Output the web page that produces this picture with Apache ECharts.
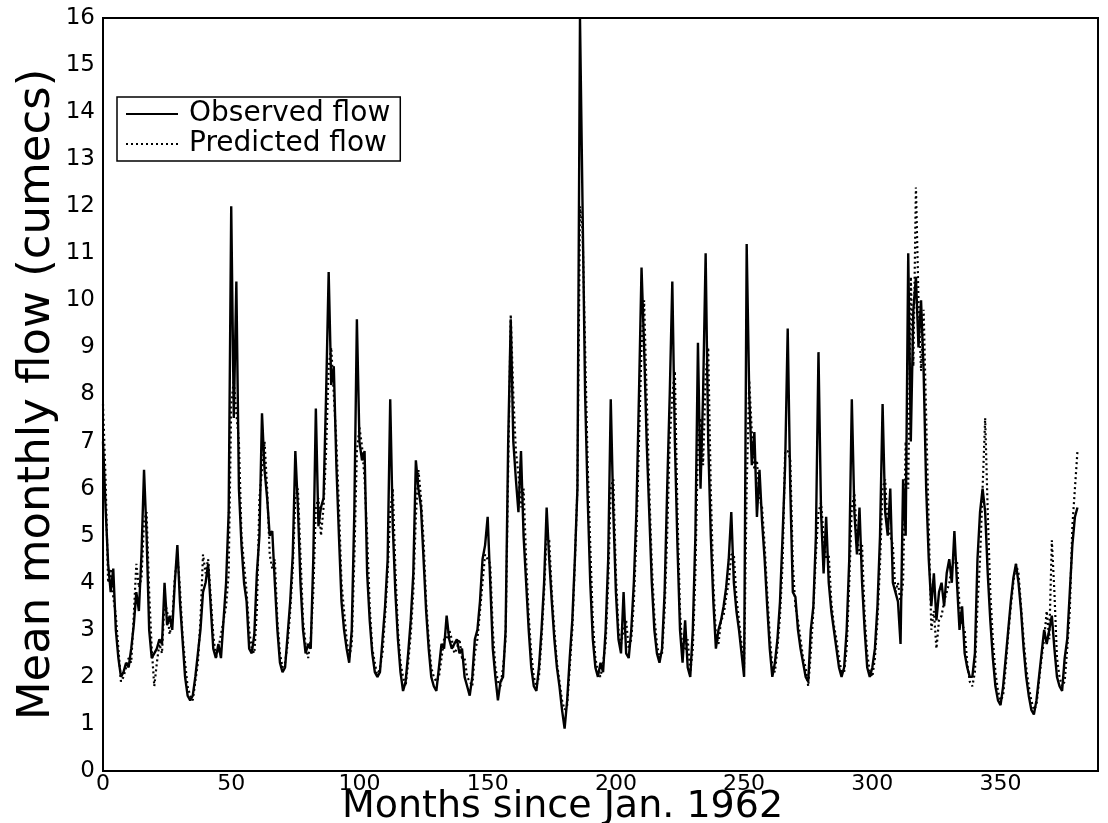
<!DOCTYPE html>
<html>
<head>
<meta charset="utf-8">
<script src="https://cdn.jsdelivr.net/npm/echarts@6/dist/echarts.min.js"></script>
<style>
  html, body { margin: 0; padding: 0; background: #fff; }
  #chart { width: 1108px; height: 823px; }
</style>
</head>
<body>
<div id="chart"></div>
<script>
// Mean monthly flow (cumecs), one value per month starting Jan. 1962 (month 0)
const observedFlow = [
  7.0, 5.6, 4.4, 3.8, 4.3, 3.0, 2.4, 2.0, 2.1, 2.3,
  2.2, 2.6, 3.1, 3.8, 3.4, 4.6, 6.4, 5.0, 3.0, 2.4,
  2.5, 2.6, 2.8, 2.7, 4.0, 3.1, 3.3, 3.0, 4.0, 4.8,
  3.6, 2.8, 2.0, 1.6, 1.5, 1.6, 2.0, 2.5, 3.0, 3.8,
  4.0, 4.4, 3.5, 2.6, 2.4, 2.7, 2.4, 3.2, 4.0, 5.5,
  12.0, 7.5, 10.4, 6.0, 4.8, 4.0, 3.6, 2.6, 2.5, 2.9,
  4.2, 5.0, 7.6, 6.4, 5.8, 5.0, 5.1, 4.0, 3.0, 2.3,
  2.1, 2.2, 2.9, 3.6, 4.6, 6.8, 5.6, 4.0, 3.0, 2.5,
  2.7, 2.6, 4.5, 7.7, 5.2, 5.6, 5.8, 8.0, 10.6, 8.2,
  8.6, 6.5, 5.0, 3.6, 3.0, 2.6, 2.3, 3.0, 5.5, 9.6,
  7.0, 6.6, 6.8, 4.2, 3.2, 2.5, 2.1, 2.0, 2.1, 2.8,
  3.5, 4.5, 7.9, 5.2, 3.8, 2.8, 2.1, 1.7, 1.9, 2.5,
  3.2, 4.2, 6.6, 6.0, 5.6, 4.5, 3.4, 2.6, 2.0, 1.8,
  1.7, 2.2, 2.7, 2.6, 3.3, 2.8, 2.6, 2.7, 2.8, 2.5,
  2.6, 2.0, 1.8, 1.6, 2.0, 2.8, 3.0, 3.6, 4.5, 4.8,
  5.4, 4.0, 2.6, 2.0, 1.5, 1.9, 2.0, 3.0, 7.0, 9.6,
  7.0, 6.2, 5.5, 6.8, 5.0, 4.0, 3.0, 2.2, 1.8, 1.7,
  2.2, 3.0, 4.0, 5.6, 4.5, 3.6, 2.8, 2.2, 1.8, 1.3,
  0.9, 1.5, 2.4, 3.2, 4.5, 6.0, 16.0, 12.0, 8.0, 5.8,
  4.0, 2.8, 2.2, 2.0, 2.3, 2.1, 3.0, 4.5, 7.9, 5.5,
  3.8, 2.8, 2.5, 3.8, 2.5, 2.4, 3.0, 4.0, 5.5, 8.0,
  10.7, 9.0, 7.0, 5.5, 4.0, 3.0, 2.5, 2.3, 2.6, 3.8,
  6.0, 8.0, 10.4, 7.0, 4.8, 3.0, 2.3, 3.2, 2.2, 2.0,
  3.0, 5.0, 9.1, 6.0, 8.0, 11.0, 7.0, 5.0, 3.6, 2.6,
  3.0, 3.2, 3.5, 3.9, 4.5, 5.5, 4.0, 3.4, 3.0, 2.5,
  2.0, 11.2, 8.0, 6.5, 7.2, 5.4, 6.4, 5.3, 4.5, 3.5,
  2.6, 2.0, 2.3, 2.8, 3.6, 5.0, 6.5, 9.4, 6.0, 3.8,
  3.7, 3.0, 2.6, 2.3, 2.0, 1.9, 3.0, 3.5, 5.0, 8.9,
  5.5, 4.2, 5.4, 4.0, 3.4, 3.0, 2.6, 2.2, 2.0, 2.2,
  3.0, 4.5, 7.9, 5.5, 4.6, 5.6, 4.0, 3.0, 2.2, 2.0,
  2.2, 2.6, 3.5, 5.0, 7.8, 5.5, 5.0, 6.0, 4.0, 3.8,
  3.6, 2.7, 6.2, 5.0, 11.0, 7.0, 9.8, 10.5, 9.0, 10.0,
  8.5, 6.0, 4.5, 3.5, 4.2, 3.2, 3.8, 4.0, 3.5, 4.2,
  4.5, 4.0, 5.1, 4.0, 3.0, 3.5, 2.5, 2.2, 2.0, 2.0,
  2.5, 4.5, 5.5, 6.0, 5.5, 4.2, 3.2, 2.4, 1.8, 1.5,
  1.4, 1.8, 2.4, 3.0, 3.6, 4.1, 4.4, 4.0, 3.4, 2.6,
  2.0, 1.6, 1.3, 1.2, 1.5, 2.0, 2.5, 3.0, 2.7, 3.0,
  3.3, 2.6, 2.0, 1.8, 1.7, 2.4, 2.8, 3.8, 4.8, 5.4,
  5.6
];

const predictedFlow = [
  7.8, 6.2, 4.0, 4.3, 3.7, 3.3, 2.6, 1.9, 2.0, 2.2,
  2.4, 2.3, 3.3, 4.4, 3.9, 4.1, 5.3, 5.5, 3.8, 2.6,
  1.8, 2.3, 2.7, 2.5, 3.6, 3.4, 2.9, 3.2, 4.1, 4.6,
  3.9, 2.9, 2.3, 1.8, 1.6, 1.5, 1.9, 2.3, 3.2, 4.6,
  4.2, 4.5, 3.7, 2.9, 2.4, 2.6, 2.9, 3.2, 3.5, 4.2,
  7.8, 8.3, 7.6, 7.0, 5.0, 4.4, 3.8, 3.0, 2.6, 2.5,
  3.4, 5.8, 6.4, 7.0, 6.0, 4.6, 4.3, 4.5, 3.2, 2.5,
  2.2, 2.3, 2.7, 3.4, 4.3, 5.8, 6.0, 4.6, 3.2, 2.7,
  2.4, 2.8, 3.8, 5.6, 5.8, 5.0, 5.6, 6.8, 8.6, 9.0,
  8.0, 7.0, 5.6, 4.0, 3.4, 2.8, 2.4, 2.7, 4.5, 6.8,
  7.3, 6.9, 6.2, 5.0, 3.5, 2.6, 2.3, 2.0, 2.2, 2.5,
  3.3, 4.2, 5.5, 6.0, 4.3, 3.0, 2.3, 2.0, 1.8, 2.3,
  2.9, 3.8, 5.4, 6.4, 5.8, 4.9, 3.6, 2.8, 2.2, 2.0,
  1.9, 2.0, 2.4, 2.8, 2.8, 3.0, 2.8, 2.5, 2.6, 2.8,
  2.4, 2.4, 2.0, 1.9, 1.8, 2.5, 2.8, 3.4, 4.0, 4.6,
  4.5, 4.4, 3.0, 2.2, 1.9, 1.8, 2.2, 2.8, 6.4, 9.7,
  8.0, 6.8, 6.3, 5.6, 6.0, 4.5, 3.3, 2.5, 2.0, 1.8,
  2.0, 2.8, 3.8, 5.0, 4.9, 3.8, 3.0, 2.3, 1.9, 1.5,
  1.3, 1.4, 2.2, 3.0, 4.4, 6.0, 12.0, 11.5, 9.0, 6.5,
  4.8, 3.2, 2.4, 2.1, 2.0, 2.3, 2.7, 4.0, 6.0, 6.2,
  4.2, 3.0, 2.7, 3.0, 3.2, 2.6, 2.8, 3.6, 5.0, 7.0,
  9.0, 10.0, 8.0, 6.0, 4.4, 3.3, 2.7, 2.4, 2.5, 3.4,
  5.0, 7.0, 8.0, 8.5, 5.5, 3.4, 2.5, 2.6, 2.8, 2.1,
  2.6, 4.2, 7.0, 7.5, 6.5, 8.4, 9.0, 6.0, 4.0, 2.9,
  2.7, 3.2, 3.3, 3.7, 4.0, 4.6, 4.6, 3.7, 3.2, 2.7,
  2.2, 6.0, 8.3, 7.2, 6.4, 6.6, 5.8, 5.6, 4.8, 3.8,
  2.9, 2.2, 2.1, 2.6, 3.3, 4.4, 6.8, 6.8, 6.6, 4.4,
  3.5, 3.2, 2.8, 2.4, 2.2, 1.8, 2.5, 3.4, 4.6, 5.5,
  5.7, 5.0, 4.5, 4.6, 3.6, 3.1, 2.8, 2.4, 2.1, 2.1,
  2.6, 4.0, 5.6, 5.9, 5.0, 4.6, 4.8, 3.3, 2.5, 2.1,
  2.0, 2.4, 3.2, 4.4, 6.0, 6.2, 5.2, 5.0, 4.8, 3.8,
  4.0, 3.6, 4.0, 7.0, 6.0, 10.5, 8.6, 12.4, 10.0, 8.5,
  9.8, 7.5, 5.2, 3.0, 3.4, 2.6, 3.2, 3.3, 3.6, 3.8,
  4.0, 4.3, 4.5, 4.5, 3.5, 3.1, 3.0, 2.3, 1.9, 1.8,
  2.1, 3.5, 4.5, 6.0, 7.5, 5.5, 3.8, 2.8, 2.1, 1.7,
  1.5, 1.6, 2.2, 2.9, 3.5, 4.0, 4.4, 4.2, 3.5, 2.8,
  2.2, 1.8, 1.5, 1.3, 1.4, 1.9, 2.4, 2.8, 3.4, 2.8,
  4.9, 3.8, 2.4, 2.0, 1.8, 1.9, 2.6, 3.4, 5.2, 6.0,
  6.8
];

const monthIndex = observedFlow.map((_, i) => i);
const xTicks = [0, 50, 100, 150, 200, 250, 300, 350];
const seriesNames = ['Observed flow', 'Predicted flow'];

const FONT = 'DejaVu Sans';
const chart = echarts.init(document.getElementById('chart'), null, { renderer: 'canvas' });

chart.setOption({
  backgroundColor: '#ffffff',
  animation: false,
  grid: {
    left: 103, right: 10, top: 18, bottom: 52,
    outerBoundsMode: 'none',
    containLabel: false,
    show: true, borderColor: '#000', borderWidth: 2, backgroundColor: 'transparent'
  },
  legend: {
    orient: 'vertical',
    left: 117, top: 97,
    data: seriesNames,
    itemWidth: 52, itemHeight: 2, itemGap: 2,
    itemStyle: { opacity: 0 },
    padding: [3, 10, 3, 8],
    backgroundColor: '#fff',
    borderColor: '#000', borderWidth: 1.5, borderRadius: 0,
    textStyle: { fontFamily: FONT, fontSize: 28, color: '#000', padding: [0, 0, 0, 6] }
  },
  xAxis: {
    type: 'value',
    min: 0, max: 388, interval: 50,
    name: 'Months since Jan. 1962',
    nameLocation: 'middle', nameGap: 17,
    nameMoveOverlap: false,
    nameTextStyle: { fontFamily: FONT, fontSize: 38, color: '#000', padding: [0, 76, 0, 0] },
    axisLine: { lineStyle: { color: '#000', width: 2 } },
    axisTick: { show: false },
    splitLine: { show: false },
    axisLabel: {
      fontFamily: FONT, fontSize: 22, color: '#000', margin: 2,
      formatter: v => (xTicks.indexOf(v) >= 0 ? String(v) : '')
    }
  },
  yAxis: {
    type: 'value',
    min: 0, max: 16, interval: 1,
    name: 'Mean monthly flow (cumecs)',
    nameLocation: 'middle', nameGap: 43,
    nameMoveOverlap: false,
    nameTextStyle: { fontFamily: FONT, fontSize: 45, color: '#000' },
    axisLine: { lineStyle: { color: '#000', width: 2 } },
    axisTick: { show: false },
    splitLine: { show: false },
    axisLabel: { fontFamily: FONT, fontSize: 23, color: '#000', margin: 8 }
  },
  series: [
    {
      name: seriesNames[0],
      type: 'line',
      data: monthIndex.map(i => [i, observedFlow[i]]),
      symbol: 'none',
      lineStyle: { color: '#000', width: 2.4 },
      itemStyle: { color: '#000' },
      z: 3
    },
    {
      name: seriesNames[1],
      type: 'line',
      data: monthIndex.map(i => [i, predictedFlow[i]]),
      symbol: 'none',
      lineStyle: { color: '#000', width: 2.2, type: [2, 3] },
      itemStyle: { color: '#000' },
      z: 2
    }
  ]
});
</script>
</body>
</html>
